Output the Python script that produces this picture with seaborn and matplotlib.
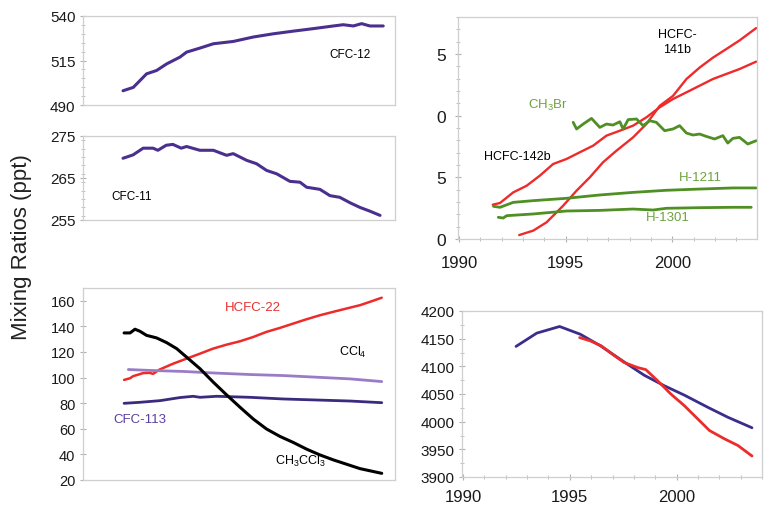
"""Trends in mixing ratios of ozone-depleting gases (multi-panel line chart)."""

import matplotlib

matplotlib.use("Agg")
import matplotlib.pyplot as plt
import seaborn as sns
from matplotlib.ticker import MultipleLocator

# ---- data (years, ppt) ----
cfc12_year = [1991.87, 1992.35, 1992.66, 1992.97, 1993.44, 1993.91, 1994.53, 1994.84,
              1995.47, 1996.09, 1997.02, 1997.96, 1998.89, 1999.83, 2000.76, 2001.70,
              2002.16, 2002.63, 2003.02, 2003.41, 2004.03]
cfc12_ppt = [498.0, 499.9, 503.7, 507.5, 509.4, 513.1, 516.9, 519.7, 522.0, 524.4, 525.7,
             528.2, 530.0, 531.5, 532.9, 534.4, 535.1, 534.4, 535.7, 534.4, 534.4]

cfc11_year = [1991.87, 1992.34, 1992.81, 1993.27, 1993.50, 1993.89, 1994.20, 1994.59,
              1994.84, 1995.46, 1996.09, 1996.71, 1997.02, 1997.65, 1998.11, 1998.58,
              1999.05, 1999.67, 2000.14, 2000.45, 2001.07, 2001.54, 2002.00, 2002.48,
              2002.94, 2003.41, 2003.88]
cfc11_ppt = [269.7, 270.5, 272.1, 272.1, 271.6, 272.8, 273.0, 272.1, 272.5, 271.6, 271.6,
             270.4, 270.8, 269.2, 268.4, 266.8, 266.0, 264.2, 264.0, 262.8, 262.3, 260.8,
             260.4, 259.1, 258.0, 257.1, 256.1]

hcfc141b_year = [1992.82, 1993.48, 1994.10, 1994.57, 1994.88, 1995.51, 1996.13, 1996.75,
                 1997.38, 1998.16, 1998.78, 1999.41, 2000.03, 2000.66, 2001.28, 2001.90,
                 2002.53, 2003.15, 2003.93]
hcfc141b_ppt = [0.32, 0.68, 1.35, 2.16, 2.70, 3.92, 5.0, 6.22, 7.16, 8.24, 9.32, 10.8,
                11.6, 12.97, 13.9, 14.7, 15.4, 16.1, 17.1]

hcfc142b_year = [1991.58, 1991.92, 1992.54, 1993.17, 1993.79, 1994.41, 1995.04, 1995.66,
                 1996.29, 1996.91, 1997.54, 1998.16, 1998.78, 1999.41, 2000.03, 2000.66,
                 2001.28, 2001.90, 2002.53, 2003.15, 2003.93]
hcfc142b_ppt = [2.78, 2.92, 3.78, 4.32, 5.14, 6.08, 6.49, 7.03, 7.57, 8.38, 8.78, 9.19,
                9.86, 10.68, 11.35, 11.89, 12.43, 12.97, 13.38, 13.78, 14.38]

ch3br_year = [1995.35, 1995.51, 1995.82, 1996.21, 1996.60, 1996.91, 1997.22, 1997.54,
              1997.69, 1997.93, 1998.32, 1998.63, 1998.94, 1999.25, 1999.64, 2000.03,
              2000.34, 2000.66, 2000.97, 2001.28, 2001.59, 2001.98, 2002.37, 2002.60,
              2002.84, 2003.15, 2003.54, 2003.93]
ch3br_ppt = [9.46, 8.92, 9.32, 9.78, 9.05, 9.32, 9.24, 9.51, 8.92, 9.68, 9.73, 9.19, 9.59,
             9.46, 8.78, 8.92, 9.19, 8.59, 8.43, 8.51, 8.32, 8.11, 8.38, 7.78, 8.16, 8.24,
             7.70, 7.97]

h1211_year = [1991.61, 1991.92, 1992.54, 1993.48, 1995.04, 1996.60, 1998.16, 1999.72,
              2001.28, 2002.84, 2003.93]
h1211_ppt = [2.65, 2.57, 2.97, 3.11, 3.30, 3.57, 3.78, 3.95, 4.05, 4.14, 4.14]

h1301_year = [1991.84, 1992.07, 1992.23, 1993.48, 1995.04, 1996.60, 1998.16, 1999.10,
              1999.72, 2001.28, 2002.84, 2003.70]
h1301_ppt = [1.76, 1.70, 1.89, 2.03, 2.27, 2.32, 2.43, 2.35, 2.49, 2.54, 2.57, 2.57]

hcfc22_year = [1991.92, 1992.20, 1992.34, 1992.81, 1993.12, 1993.27, 1993.58, 1994.20,
               1994.82, 1995.45, 1996.07, 1996.70, 1997.32, 1997.95, 1998.57, 1999.20,
               1999.82, 2000.45, 2001.07, 2001.70, 2002.32, 2002.95, 2003.41, 2003.96]
hcfc22_ppt = [98.2, 99.5, 101.1, 103.5, 103.7, 102.9, 106.3, 110.8, 114.7, 118.6, 122.6,
              125.7, 128.3, 131.7, 135.7, 138.8, 142.2, 145.6, 148.7, 151.4, 154.0, 156.6,
              159.2, 162.4]

ch3ccl3_year = [1991.92, 1992.20, 1992.43, 1992.66, 1992.97, 1993.44, 1993.91, 1994.38,
                1994.84, 1995.47, 1996.09, 1996.71, 1997.34, 1997.96, 1998.58, 1999.21,
                1999.83, 2000.45, 2001.07, 2001.70, 2002.32, 2002.94, 2003.96]
ch3ccl3_ppt = [134.9, 134.9, 137.8, 136.2, 133.0, 131.0, 127.3, 122.6, 116.0, 106.9, 96.4,
               86.5, 76.8, 67.6, 59.8, 54.0, 49.3, 44.1, 39.6, 35.7, 32.3, 28.9, 25.2]

ccl4_year = [1992.12, 1993.13, 1994.69, 1996.25, 1997.80, 1999.36, 2000.92, 2002.48, 2003.96]
ccl4_ppt = [106.3, 105.6, 104.8, 103.5, 102.4, 101.6, 100.3, 99.0, 96.9]

cfc113_year = [1991.92, 1992.66, 1993.60, 1994.53, 1995.15, 1995.47, 1996.25, 1997.80,
               1999.36, 2000.92, 2002.48, 2003.96]
cfc113_ppt = [79.9, 80.7, 82.0, 84.4, 85.4, 84.6, 85.4, 84.6, 83.3, 82.5, 81.7, 80.4]

cl_model_year = [1992.48, 1993.45, 1994.52, 1995.49, 1996.44, 1997.54, 1998.48, 1999.42,
                 2000.36, 2001.46, 2002.40, 2003.53]
cl_model_ppt = [4136, 4160, 4172, 4158, 4137, 4108, 4084, 4065, 4048, 4026, 4008, 3989]

cl_obs_year = [1995.46, 1995.96, 1996.47, 1997.06, 1997.54, 1998.16, 1998.56, 1999.11,
               1999.73, 2000.36, 2000.99, 2001.54, 2002.24, 2002.87, 2003.53]
cl_obs_ppt = [4152, 4146, 4137, 4120, 4107, 4098, 4094, 4074, 4050, 4029, 4005, 3984,
              3969, 3957, 3938]

year_ticks = [1990, 1995, 2000]
hcfc_ticks = [0, 5, 10, 15]
hcfc_tick_labels = ["0", "5", "0", "5"]

PURPLE = "#4a2f8f"
DARK_PURPLE = "#3b2a7e"
LIGHT_PURPLE = "#9a7cc6"
RED = "#ee2b2b"
GREEN = "#4f8f24"
GREEN_TEXT = "#6da23e"
BLUE = "#3a2d8c"
FRAME = "#cfcfcf"

sns.set_theme(style="white")
plt.rcParams["font.family"] = ["Liberation Sans", "DejaVu Sans"]
plt.rcParams["mathtext.fontset"] = "custom"
plt.rcParams["mathtext.rm"] = "Liberation Sans"

W, H = 772, 506
fig = plt.figure(figsize=(W / 100, H / 100), dpi=100)


def box(left, top, right, bottom):
    """Axes from pixel edges of the reference."""
    return fig.add_axes([left / W, 1 - bottom / H, (right - left) / W, (bottom - top) / H])


def style(ax, ysize=10, xticks=False, xpad=9):
    for sp in ax.spines.values():
        sp.set_color(FRAME)
        sp.set_linewidth(0.9)
    ax.tick_params(axis="y", which="major", direction="inout", length=5, width=0.8,
                   color="#b0b0b0", labelsize=ysize, labelcolor="#1a1a1a", pad=3,
                   left=True)
    ax.tick_params(axis="y", which="minor", direction="inout", length=3, width=0.7,
                   color="#c0c0c0", left=True)
    if xticks:
        ax.tick_params(axis="x", which="major", direction="inout", length=5, width=0.8,
                       color="#b0b0b0", labelsize=12, labelcolor="#1a1a1a", pad=xpad,
                       bottom=True)
        ax.tick_params(axis="x", which="minor", direction="inout", length=3, width=0.7,
                       color="#c0c0c0", bottom=True)
    else:
        ax.set_xticks([])
    ax.set_xlabel("")
    ax.set_ylabel("")
    ax.grid(False)


def line(ax, x, y, color, lw):
    sns.lineplot(x=x, y=y, ax=ax, color=color, linewidth=lw, estimator=None)


# CFC-12
ax1 = box(83, 17, 395, 106)
line(ax1, cfc12_year, cfc12_ppt, PURPLE, 2.2)
ax1.set_xlim(1990, 2004.58)
ax1.set_ylim(490, 540)
ax1.set_yticks([490, 515, 540])
ax1.yaxis.set_minor_locator(MultipleLocator(5))
style(ax1, ysize=11)
ax1.text(0.856, 0.57, "CFC-12", transform=ax1.transAxes, ha="center", va="center",
         fontsize=8.5, color="black")

# CFC-11
ax2 = box(83, 137, 395, 221)
line(ax2, cfc11_year, cfc11_ppt, PURPLE, 2.2)
ax2.set_xlim(1990, 2004.58)
ax2.set_ylim(255, 275)
ax2.set_yticks([255, 265, 275])
ax2.yaxis.set_minor_locator(MultipleLocator(2))
style(ax2, ysize=11)
ax2.text(0.157, 0.29, "CFC-11", transform=ax2.transAxes, ha="center", va="center",
         fontsize=8.5, color="black")

# HCFCs, CH3Br and halons
ax3 = box(458, 18, 757, 240)
line(ax3, hcfc142b_year, hcfc142b_ppt, RED, 1.7)
line(ax3, hcfc141b_year, hcfc141b_ppt, RED, 1.7)
line(ax3, ch3br_year, ch3br_ppt, GREEN, 2.0)
line(ax3, h1211_year, h1211_ppt, GREEN, 2.0)
line(ax3, h1301_year, h1301_ppt, GREEN, 2.0)
ax3.set_xlim(1989.95, 2003.97)
ax3.set_ylim(0, 18)
ax3.set_yticks(hcfc_ticks)
ax3.set_yticklabels(hcfc_tick_labels)
ax3.yaxis.set_minor_locator(MultipleLocator(1))
ax3.set_xticks(year_ticks)
ax3.xaxis.set_minor_locator(MultipleLocator(1))
style(ax3, ysize=12.5, xticks=True, xpad=9)
ax3.tick_params(axis="y", pad=6)
ax3.text(0.732, 0.89, "HCFC-\n141b", transform=ax3.transAxes, ha="center", va="center",
         fontsize=9, color="black", linespacing=1.3)
ax3.text(0.30, 0.604, r"CH$_\mathregular{3}$Br", transform=ax3.transAxes, ha="center",
         va="center", fontsize=9.5, color=GREEN_TEXT)
ax3.text(0.197, 0.374, "HCFC-142b", transform=ax3.transAxes, ha="center", va="center",
         fontsize=9, color="black")
ax3.text(0.809, 0.279, "H-1211", transform=ax3.transAxes, ha="center", va="center",
         fontsize=9.5, color=GREEN_TEXT)
ax3.text(0.702, 0.10, "H-1301", transform=ax3.transAxes, ha="center", va="center",
         fontsize=9.5, color=GREEN_TEXT)

# HCFC-22, CH3CCl3, CCl4, CFC-113
ax4 = box(83, 289, 395, 481)
line(ax4, hcfc22_year, hcfc22_ppt, RED, 1.8)
line(ax4, ccl4_year, ccl4_ppt, LIGHT_PURPLE, 2.0)
line(ax4, cfc113_year, cfc113_ppt, DARK_PURPLE, 2.0)
line(ax4, ch3ccl3_year, ch3ccl3_ppt, "black", 2.2)
ax4.set_xlim(1990, 2004.58)
ax4.set_ylim(20, 170)
ax4.set_yticks(range(20, 161, 20))
style(ax4, ysize=10.5)
ax4.text(0.545, 0.90, "HCFC-22", transform=ax4.transAxes, ha="center", va="center",
         fontsize=9.5, color="#e8312f")
ax4.text(0.865, 0.672, r"CCl$_\mathregular{4}$", transform=ax4.transAxes, ha="center",
         va="center", fontsize=9, color="black")
ax4.text(0.183, 0.318, "CFC-113", transform=ax4.transAxes, ha="center", va="center",
         fontsize=9.5, color="#5a3ea0")
ax4.text(0.696, 0.104, r"CH$_\mathregular{3}$CCl$_\mathregular{3}$",
         transform=ax4.transAxes, ha="center", va="center", fontsize=9, color="black")

# total chlorine
ax5 = box(462, 312, 762, 478)
line(ax5, cl_model_year, cl_model_ppt, BLUE, 2.0)
line(ax5, cl_obs_year, cl_obs_ppt, RED, 2.0)
ax5.set_xlim(1989.95, 2004.0)
ax5.set_ylim(3900, 4200)
ax5.set_yticks(range(3900, 4201, 50))
ax5.yaxis.set_minor_locator(MultipleLocator(25))
ax5.set_xticks(year_ticks)
ax5.xaxis.set_minor_locator(MultipleLocator(1))
style(ax5, ysize=11, xticks=True, xpad=6)

fig.text(22 / W, 1 - 247 / H, "Mixing Ratios (ppt)", rotation=90, ha="center",
         va="center", fontsize=16, color="#222222")

fig.savefig("out.png", dpi=100)
